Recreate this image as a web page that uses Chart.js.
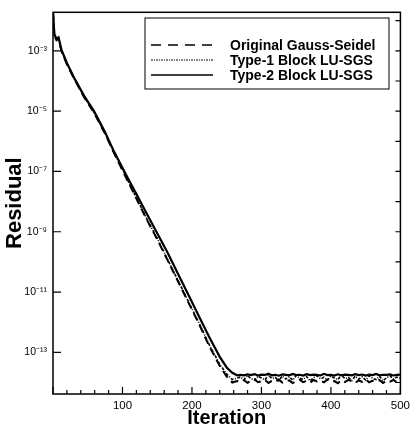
<!DOCTYPE html>
<html>
<head>
<meta charset="utf-8">
<script src="https://cdn.jsdelivr.net/npm/chart.js@4.4.1/dist/chart.umd.min.js"></script>
<style>
html,body{margin:0;padding:0;background:#fff;}
#wrap{width:415px;height:431px;}
</style>
</head>
<body>
<div id="wrap"><canvas id="c" width="415" height="431"></canvas></div>
<script>
// ---- data ----
const iterations = [0,2,5,8,12,20,31,45,59,75,88,105,120,135,150,165,180,195,210,225,240,250,258,265,
  270,275,280,285,290,295,300,305,310,315,320,325,330,335,340,345,350,355,360,365,370,375,380,385,390,395,
  400,405,410,415,420,425,430,435,440,445,450,455,460,465,470,475,480,485,490,495,500];

const gaussSeidel = [2.0e-2,3.16e-3,2.24e-3,2.51e-3,1.0e-3,3.55e-4,1.12e-4,2.82e-5,8.91e-6,1.78e-6,3.98e-7,6.31e-8,
  1.26e-8,2.51e-9,5.62e-10,1.12e-10,2.24e-11,4.47e-12,8.91e-13,1.58e-13,3.55e-14,1.58e-14,1.0e-14,1.12e-14,
  1.05e-14,1.20e-14,0.98e-14,1.15e-14,1.28e-14,1.02e-14,1.10e-14,1.22e-14,0.97e-14,1.14e-14,1.06e-14,1.25e-14,
  1.00e-14,1.12e-14,1.18e-14,0.96e-14,1.09e-14,1.24e-14,1.03e-14,1.13e-14,0.99e-14,1.21e-14,1.08e-14,1.16e-14,
  1.01e-14,1.26e-14,1.07e-14,1.11e-14,0.95e-14,1.19e-14,1.04e-14,1.23e-14,1.10e-14,0.98e-14,1.17e-14,1.05e-14,
  1.27e-14,1.02e-14,1.13e-14,1.08e-14,1.20e-14,0.97e-14,1.15e-14,1.06e-14,1.22e-14,1.01e-14,1.12e-14];

const type1BlockLUSGS = [2.0e-2,3.31e-3,2.40e-3,2.63e-3,1.05e-3,3.72e-4,1.17e-4,2.95e-5,9.33e-6,1.86e-6,4.17e-7,6.76e-8,
  1.35e-8,2.69e-9,6.03e-10,1.20e-10,2.40e-11,4.79e-12,9.55e-13,1.78e-13,3.98e-14,1.91e-14,1.26e-14,1.41e-14,
  1.52e-14,1.25e-14,1.70e-14,1.33e-14,1.18e-14,1.60e-14,1.42e-14,1.22e-14,1.75e-14,1.36e-14,1.48e-14,1.15e-14,
  1.65e-14,1.30e-14,1.55e-14,1.20e-14,1.72e-14,1.38e-14,1.27e-14,1.58e-14,1.13e-14,1.45e-14,1.68e-14,1.32e-14,
  1.50e-14,1.19e-14,1.62e-14,1.40e-14,1.24e-14,1.78e-14,1.35e-14,1.47e-14,1.16e-14,1.63e-14,1.29e-14,1.54e-14,
  1.21e-14,1.70e-14,1.37e-14,1.26e-14,1.59e-14,1.14e-14,1.44e-14,1.66e-14,1.31e-14,1.51e-14,1.39e-14];

const type2BlockLUSGS = [2.0e-2,3.55e-3,2.51e-3,2.82e-3,1.12e-3,3.98e-4,1.20e-4,3.16e-5,1.0e-5,2.0e-6,4.47e-7,7.94e-8,
  1.78e-8,3.98e-9,8.91e-10,2.0e-10,3.98e-11,7.94e-12,1.58e-12,3.16e-13,7.08e-14,3.16e-14,2.09e-14,1.74e-14,
  1.80e-14,1.72e-14,1.85e-14,1.76e-14,1.90e-14,1.70e-14,1.82e-14,1.78e-14,1.95e-14,1.74e-14,1.80e-14,1.68e-14,
  1.86e-14,1.79e-14,1.73e-14,1.92e-14,1.77e-14,1.81e-14,1.70e-14,1.88e-14,1.75e-14,1.83e-14,1.78e-14,1.71e-14,
  1.94e-14,1.76e-14,1.80e-14,1.69e-14,1.87e-14,1.74e-14,1.82e-14,1.79e-14,1.72e-14,1.90e-14,1.77e-14,1.84e-14,
  1.70e-14,1.81e-14,1.76e-14,1.93e-14,1.73e-14,1.80e-14,1.78e-14,1.86e-14,1.71e-14,1.79e-14,1.83e-14];

const seriesLabels = ['Original Gauss-Seidel','Type-1 Block LU-SGS','Type-2 Block LU-SGS'];
const xTickLabels = ['100','200','300','400','500'];
const yLabelExponents = [-3,-5,-7,-9,-11,-13];
const yDecades = [-14,-13,-12,-11,-10,-9,-8,-7,-6,-5,-4,-3,-2];

// ---- helpers ----
const SUP = {'-':'\u207B','0':'\u2070','1':'\u00B9','2':'\u00B2','3':'\u00B3','4':'\u2074','5':'\u2075','6':'\u2076','7':'\u2077','8':'\u2078','9':'\u2079'};
function sup(n){ return String(n).split('').map(c=>SUP[c]).join(''); }
function pts(ys){ return iterations.map((x,i)=>({x:x,y:ys[i]})); }

const dashes = [[8,5],[3,1.5,1,1.5],[]];
const widths = [2,1.6,2.2];

const framePlugin = {
  id:'frame',
  afterDraw(chart){
    const ctx = chart.ctx, ca = chart.chartArea;
    const xs = chart.scales.x, ys = chart.scales.y;
    ctx.save();
    ctx.strokeStyle = '#000';
    ctx.lineWidth = 1.5;
    ctx.setLineDash([]);
    ctx.strokeRect(ca.left, ca.top, ca.right-ca.left, ca.bottom-ca.top);
    ctx.lineWidth = 1.2;
    ctx.beginPath();
    for (let v = 0; v <= 500; v += 20) {
      const px = xs.getPixelForValue(v);
      const len = (v % 100 === 0) ? 7 : 4;
      ctx.moveTo(px, ca.bottom); ctx.lineTo(px, ca.bottom - len);
    }
    yLabelExponents.forEach(e=>{
      const py = ys.getPixelForValue(Math.pow(10,e));
      ctx.moveTo(ca.left, py); ctx.lineTo(ca.left + 8, py);
    });
    yDecades.forEach(e=>{
      const py = ys.getPixelForValue(Math.pow(10,e));
      if (py > ca.top + 1 && py < ca.bottom - 1) {
        ctx.moveTo(ca.right, py); ctx.lineTo(ca.right - 5, py);
      }
    });
    ctx.stroke();

    // legend box
    const bx = 145, by = 18, bw = 244, bh = 71;
    ctx.lineWidth = 1;
    ctx.fillStyle = '#fff';
    ctx.fillRect(bx, by, bw, bh);
    ctx.strokeRect(bx, by, bw, bh);
    const rows = [45, 60, 75];
    ctx.font = 'bold 14px "Liberation Sans", Arial, sans-serif';
    ctx.textBaseline = 'middle';
    ctx.textAlign = 'left';
    chart.data.datasets.forEach((ds, i)=>{
      ctx.save();
      ctx.strokeStyle = '#000';
      ctx.lineWidth = i === 1 ? 1.2 : 1.6;
      ctx.setLineDash(i === 0 ? [10,7] : (i === 1 ? [2,1,1,1] : []));
      ctx.beginPath();
      ctx.moveTo(151, rows[i]); ctx.lineTo(213, rows[i]);
      ctx.stroke();
      ctx.restore();
      ctx.fillStyle = '#000';
      ctx.fillText(ds.label, 230, rows[i] + 1);
    });
    ctx.restore();
  }
};

new Chart(document.getElementById('c'), {
  type: 'line',
  data: {
    datasets: [
      {label: seriesLabels[0], data: pts(gaussSeidel), borderColor:'#000', borderWidth:widths[0], borderDash:dashes[0], pointRadius:0, fill:false, tension:0},
      {label: seriesLabels[1], data: pts(type1BlockLUSGS), borderColor:'#000', borderWidth:widths[1], borderDash:dashes[1], pointRadius:0, fill:false, tension:0},
      {label: seriesLabels[2], data: pts(type2BlockLUSGS), borderColor:'#000', borderWidth:widths[2], borderDash:dashes[2], pointRadius:0, fill:false, tension:0}
    ]
  },
  options: {
    responsive: false,
    animation: false,
    devicePixelRatio: 1,
    layout: {padding: {top: 8, right: 11, left: 0, bottom: 0}},
    plugins: {legend: {display:false}, tooltip: {enabled:false}},
    scales: {
      x: {
        type: 'linear', min: 0, max: 500,
        grid: {display:false, drawTicks:false},
        border: {display:false},
        afterFit(s){ s.height = 37; },
        afterBuildTicks(s){ s.ticks = xTickLabels.map(t=>({value:Number(t)})); },
        ticks: {
          autoSkip:false, maxRotation:0, padding:5, color:'#000',
          font:{family:'"Liberation Sans", Arial, sans-serif', size:11.5},
          callback(v){ return xTickLabels.includes(String(v)) ? String(v) : ''; }
        },
        title: {display:true, text:'Iteration', color:'#000',
          font:{family:'"Liberation Sans", Arial, sans-serif', size:20, weight:'bold', lineHeight:1},
          padding:{top:0, bottom:3}}
      },
      y: {
        type: 'logarithmic', min: 1.9e-2 / Math.pow(10, 12.66), max: 1.9e-2,
        grid: {display:false, drawTicks:false},
        border: {display:false},
        afterFit(s){ s.width = 53; },
        afterBuildTicks(s){ s.ticks = yLabelExponents.map(e=>({value:Math.pow(10,e)})); },
        ticks: {
          autoSkip:false, padding:6, color:'#000',
          font:{family:'"Liberation Sans", Arial, sans-serif', size:10.5},
          callback(v){ const e = Math.round(Math.log10(v)); return '10' + sup(e); }
        },
        title: {display:true, text:'Residual', color:'#000',
          font:{family:'"Liberation Sans", Arial, sans-serif', size:22, weight:'bold', lineHeight:1},
          padding:{top:4, bottom:0}}
      }
    }
  },
  plugins: [framePlugin]
});
</script>
</body>
</html>
